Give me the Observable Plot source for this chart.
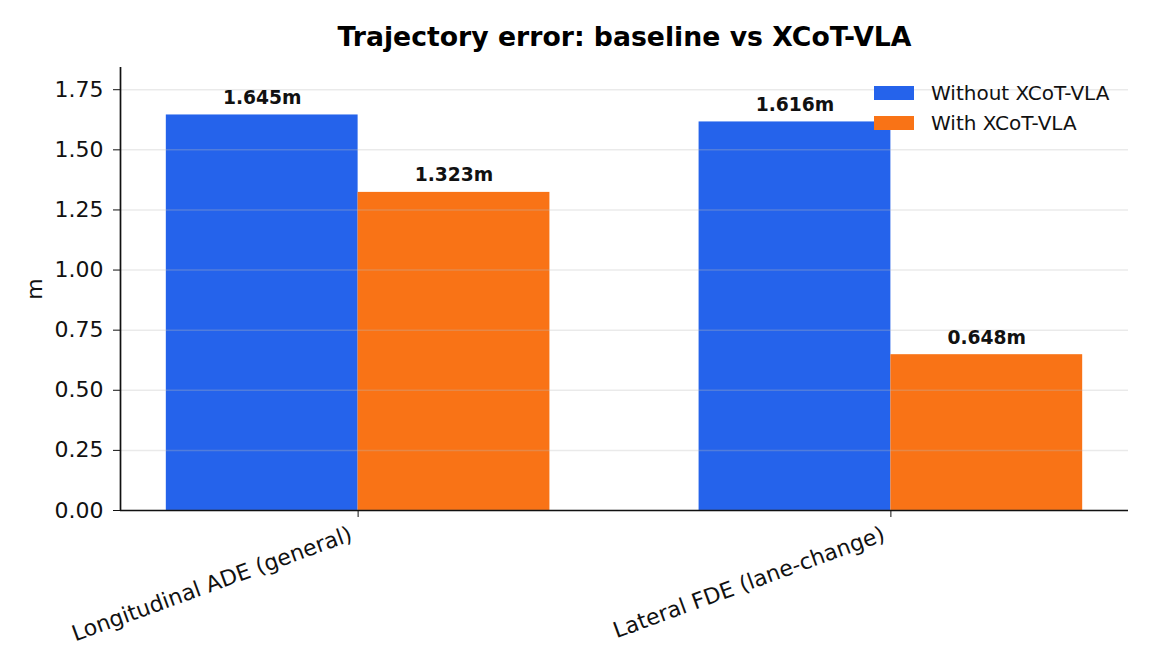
<!DOCTYPE html>
<html>
<head>
<meta charset="utf-8">
<script src="https://cdn.jsdelivr.net/npm/d3@7"></script>
<script src="https://cdn.jsdelivr.net/npm/@observablehq/plot@0.6"></script>
<style>
  html, body { margin: 0; padding: 0; background: #fff; }
  #wrap { position: relative; width: 1152px; height: 672px; font-family: "DejaVu Sans", sans-serif; }
  #legend { position: absolute; left: 874px; top: 78px; font-size: 20px; color: #111; }
  .row { display: flex; align-items: center; height: 30px; }
  .sw { width: 40px; height: 14px; margin-right: 17px; }
</style>
</head>
<body>
<div id="wrap"></div>
<script>
const title = "Trajectory error: baseline vs XCoT-VLA";
const categories = ["Longitudinal ADE (general)", "Lateral FDE (lane-change)"];
const seriesNames = ["Without XCoT-VLA", "With XCoT-VLA"];
const withoutValues = [1.645, 1.616];
const withValues = [1.323, 0.648];
const seriesColors = ["#2563eb", "#f97316"];
const yTicks = [0, 0.25, 0.5, 0.75, 1.0, 1.25, 1.5, 1.75];
const yLabel = "m";

const barWidth = 0.36;
const seriesValues = [withoutValues, withValues];
const rows = [];
categories.forEach((c, i) => {
  seriesNames.forEach((s, j) => {
    rows.push({cat: c, i, s, j, value: seriesValues[j][i]});
  });
});
const span = (categories.length - 1) + 2 * barWidth;
const pad = span * 0.05;
const xDomain = [-barWidth - pad, categories.length - 1 + barWidth + pad];
const yMax = d3.max(rows, d => d.value) * 1.12;
const xTicks = d3.range(categories.length);

const chart = Plot.plot({
  width: 1152,
  height: 672,
  marginLeft: 120,
  marginRight: 24,
  marginTop: 67,
  marginBottom: 162,
  style: {fontFamily: "'DejaVu Sans', sans-serif", background: "#fff", color: "#111"},
  x: {type: "linear", domain: xDomain},
  y: {domain: [0, yMax]},
  color: {domain: seriesNames, range: seriesColors},
  marks: [
    Plot.rect(rows, {
      x1: d => d.i - barWidth + d.j * barWidth,
      x2: d => d.i + d.j * barWidth,
      y1: 0,
      y2: "value",
      fill: "s"
    }),
    Plot.gridY(yTicks, {stroke: "#bbbbbb", strokeOpacity: 0.3, strokeWidth: 1.5}),
    Plot.text(rows, {
      x: d => d.i - barWidth / 2 + d.j * barWidth,
      y: "value",
      text: d => d.value.toFixed(3) + "m",
      dy: -17,
      fontSize: 18.7,
      fontWeight: "bold",
      fill: "#111"
    }),
    Plot.axisY({
      ticks: yTicks,
      tickFormat: d3.format(".2f"),
      tickSize: 7,
      tickPadding: 10,
      fontSize: 22,
      label: yLabel,
      labelAnchor: "center",
      labelArrow: "none",
      labelOffset: 94
    }),
    Plot.axisX({
      ticks: xTicks,
      tickFormat: null,
      tickSize: 7,
      text: null,
      label: null
    }),
    Plot.axisX({
      ticks: xTicks,
      tickFormat: i => categories[i],
      tickRotate: -20,
      tickSize: 0,
      tickPadding: 23,
      dx: -7,
      fontSize: 22,
      label: null
    }),
    Plot.ruleY([0], {stroke: "#111", strokeWidth: 1.7}),
    Plot.ruleX([xDomain[0]], {stroke: "#111", strokeWidth: 1.7}),
    Plot.text([title], {
      frameAnchor: "top",
      dy: -40,
      fontSize: 26.7,
      fontWeight: "bold",
      fill: "#000"
    })
  ]
});

const wrap = document.getElementById("wrap");
wrap.appendChild(chart);
const legend = document.createElement("div");
legend.id = "legend";
seriesNames.forEach((s, j) => {
  const row = document.createElement("div");
  row.className = "row";
  const sw = document.createElement("div");
  sw.className = "sw";
  sw.style.background = seriesColors[j];
  const t = document.createElement("span");
  t.textContent = s;
  row.appendChild(sw);
  row.appendChild(t);
  legend.appendChild(row);
});
wrap.appendChild(legend);
</script>
</body>
</html>
